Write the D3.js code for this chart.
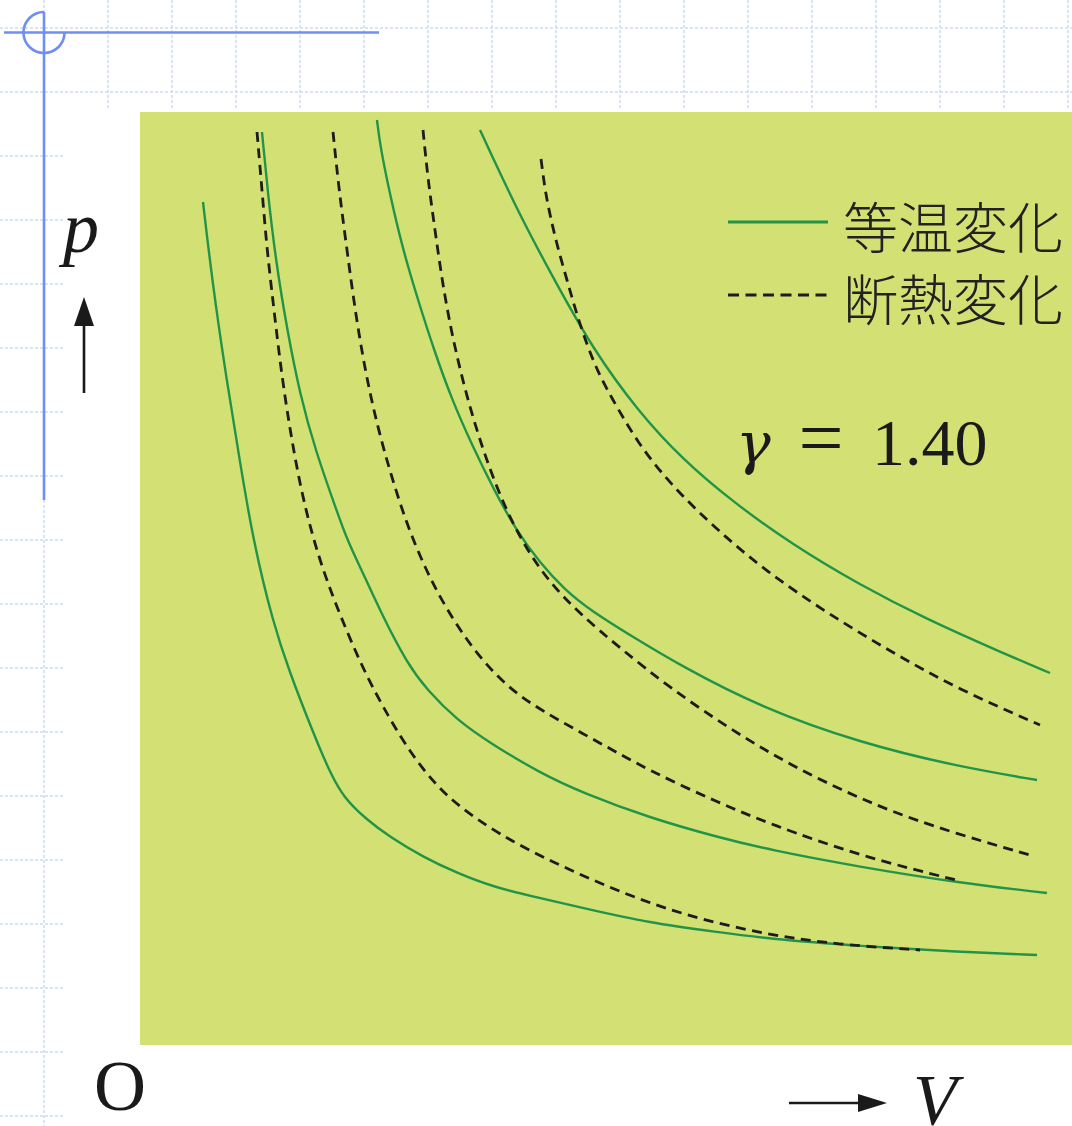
<!DOCTYPE html>
<html>
<head>
<meta charset="utf-8">
<script src="https://cdn.jsdelivr.net/npm/d3@7"></script>
<style>
  html, body { margin: 0; padding: 0; background: #ffffff; }
  svg { display: block; }
</style>
</head>
<body>
<svg id="chart" width="1072" height="1126"></svg>
<script>
// ---- p–V diagram: isothermal (solid) and adiabatic (dashed) curves ----
// Points are [V, p] in arbitrary units.

const isotherm1 = [[0.63,8.43],[0.72,7.66],[0.85,6.75],[1.00,5.83],[1.13,5.05],[1.33,4.22],[1.50,3.72],[1.67,3.28],[1.80,2.96],[1.90,2.73],[2.03,2.48],[2.27,2.25],[2.50,2.08],[2.83,1.88],[3.17,1.72],[3.53,1.58],[4.00,1.47],[4.43,1.37],[5.10,1.22],[5.77,1.13],[6.30,1.06],[7.20,0.99],[8.20,0.93],[8.97,0.90]];
const isotherm2 = [[1.22,9.13],[1.28,8.50],[1.36,7.83],[1.47,7.16],[1.60,6.50],[1.76,5.93],[1.94,5.42],[2.07,5.05],[2.23,4.72],[2.43,4.28],[2.67,3.82],[2.87,3.55],[3.17,3.25],[3.50,3.02],[4.00,2.72],[4.43,2.52],[5.10,2.27],[5.77,2.08],[6.30,1.95],[7.20,1.78],[8.20,1.62],[9.07,1.52]];
const isotherm3 = [[2.37,9.25],[2.40,9.00],[2.50,8.50],[2.63,7.95],[2.78,7.45],[2.94,6.95],[3.12,6.45],[3.32,6.00],[3.54,5.55],[3.76,5.15],[4.00,4.82],[4.25,4.55],[4.50,4.35],[4.93,4.08],[5.43,3.78],[6.20,3.38],[7.20,3.02],[8.20,2.78],[8.97,2.65]];
const isotherm4 = [[3.40,9.15],[3.77,8.35],[4.17,7.60],[4.53,6.96],[4.97,6.35],[5.43,5.85],[5.93,5.43],[6.53,5.00],[7.20,4.60],[7.86,4.26],[8.65,3.91],[9.10,3.72]];

const adiabat1 = [[1.17,9.13],[1.22,8.55],[1.27,7.95],[1.34,7.35],[1.41,6.75],[1.50,6.15],[1.60,5.60],[1.72,5.10],[1.87,4.63],[2.07,4.13],[2.26,3.70],[2.48,3.29],[2.70,2.93],[2.94,2.62],[3.18,2.39],[3.60,2.10],[4.10,1.84],[4.77,1.54],[5.43,1.30],[6.27,1.10],[7.03,1.00],[7.80,0.95]];
const adiabat2 = [[1.93,9.13],[1.99,8.55],[2.07,7.95],[2.15,7.35],[2.25,6.75],[2.37,6.20],[2.51,5.70],[2.67,5.20],[2.85,4.77],[3.04,4.40],[3.33,3.95],[3.67,3.58],[4.00,3.35],[4.60,3.02],[5.10,2.74],[5.77,2.43],[6.30,2.21],[7.20,1.89],[8.20,1.64]];
const adiabat3 = [[2.83,9.15],[2.88,8.65],[2.95,8.15],[3.02,7.65],[3.11,7.15],[3.22,6.67],[3.35,6.20],[3.50,5.75],[3.67,5.33],[3.87,4.95],[4.10,4.62],[4.40,4.31],[4.80,3.97],[5.30,3.57],[5.90,3.16],[6.50,2.80],[7.20,2.46],[7.90,2.19],[8.93,1.89]];
const adiabat4 = [[4.01,8.86],[4.05,8.55],[4.10,8.30],[4.17,8.00],[4.27,7.65],[4.36,7.33],[4.47,7.00],[4.58,6.73],[4.70,6.50],[4.97,6.03],[5.30,5.61],[5.77,5.15],[6.27,4.73],[6.87,4.32],[7.53,3.92],[8.20,3.55],[9.00,3.20]];

const isotherms = [isotherm1, isotherm2, isotherm3, isotherm4];
const adiabats = [adiabat1, adiabat2, adiabat3, adiabat4];

const legendLabels = ["等温変化", "断熱変化"];
const gamma = 1.40;
const axisLabels = { p: "p", V: "V", origin: "O" };

const V_MAX = 9.32, P_MAX = 9.33;

// ---- colours ----
const plotBg = "#d3e174";
const isoColor = "#229447";
const adiColor = "#1c1c1c";
const gridColor = "#cfdaf8";
const accentBlue = "#6f8ff2";

const svg = d3.select("#chart");
const W = 1072, H = 1126;

// ---- page backdrop: faint dashed grid ----
const grid = svg.append("g").attr("fill", "none")
  .attr("stroke", gridColor).attr("stroke-width", 1.5).attr("stroke-dasharray", "3,2");
const gx = d3.range(44, W, 64);
const gy = d3.range(28, H, 64);
gx.forEach(x => {
  grid.append("line").attr("x1", x).attr("x2", x)
    .attr("y1", 0).attr("y2", x === 44 ? H : 110);
});
gy.forEach(y => {
  grid.append("line").attr("y1", y).attr("y2", y)
    .attr("x1", 0).attr("x2", y < 100 ? W : 64);
});

// ---- blue corner ornament ----
const orn = svg.append("g").attr("fill", "none").attr("stroke", accentBlue)
  .attr("stroke-width", 2.6);
orn.append("line").attr("x1", 4).attr("x2", 379).attr("y1", 32.5).attr("y2", 32.5);
orn.append("line").attr("x1", 44).attr("x2", 44).attr("y1", 12).attr("y2", 500);
const arcPath = d3.path();
arcPath.moveTo(44, 12);
arcPath.arc(44, 32.5, 20.5, -Math.PI / 2, 0, true);
orn.append("path").attr("d", arcPath.toString());

// ---- scales & plot panel ----
const x = d3.scaleLinear().domain([0, V_MAX]).range([140, 1072]);
const y = d3.scaleLinear().domain([0, P_MAX]).range([1045, 112]);

svg.append("rect")
  .attr("x", x(0)).attr("y", y(P_MAX))
  .attr("width", x(V_MAX) - x(0)).attr("height", y(0) - y(P_MAX))
  .attr("fill", plotBg);

const line = d3.line()
  .x(d => x(d[0])).y(d => y(d[1]))
  .curve(d3.curveBasis);

svg.append("g").selectAll("path").data(isotherms).join("path")
  .attr("d", line)
  .attr("fill", "none").attr("stroke", isoColor).attr("stroke-width", 2.4);

svg.append("g").selectAll("path").data(adiabats).join("path")
  .attr("d", line)
  .attr("fill", "none").attr("stroke", adiColor).attr("stroke-width", 2.8)
  .attr("stroke-dasharray", "10,6.5");

// ---- legend ----
const legend = svg.append("g");
legend.append("line").attr("x1", 728).attr("x2", 828).attr("y1", 222).attr("y2", 222)
  .attr("stroke", isoColor).attr("stroke-width", 3);
legend.append("line").attr("x1", 728).attr("x2", 828).attr("y1", 295).attr("y2", 295)
  .attr("stroke", adiColor).attr("stroke-width", 3).attr("stroke-dasharray", "11,6.5");
legend.selectAll("text").data(legendLabels).join("text")
  .attr("x", 843).attr("y", (d, i) => 224 + i * 72)
  .attr("dominant-baseline", "central")
  .attr("font-family", "'Noto Sans CJK JP', 'Noto Sans CJK SC', sans-serif")
  .attr("font-weight", 300)
  .attr("font-size", 55).attr("fill", "#222")
  .text(d => d);

// ---- γ label ----
const serif = "'Liberation Serif', 'DejaVu Serif', serif";
const gLabel = svg.append("g").attr("fill", "#1a1a1a");
gLabel.append("text").attr("x", 736).attr("y", 463)
  .attr("font-family", "'DejaVu Serif', serif")
  .attr("font-size", 58).attr("font-style", "italic").text("γ");
gLabel.append("text").attr("x", 821).attr("y", 465).attr("text-anchor", "middle")
  .attr("font-family", serif).attr("font-size", 80).text("=");
gLabel.append("text").attr("x", 872).attr("y", 465)
  .attr("font-family", serif).attr("font-size", 66).text(gamma.toFixed(2));

// ---- axis labels and arrows ----
const axes = svg.append("g").attr("font-family", serif).attr("fill", "#1a1a1a");
axes.append("text").attr("x", 63).attr("y", 252)
  .attr("font-size", 72).attr("font-style", "italic").text(axisLabels.p);
axes.append("text").attr("x", 94).attr("y", 1110)
  .attr("font-size", 72).text(axisLabels.origin);
axes.append("text").attr("x", 913).attr("y", 1124)
  .attr("font-size", 72).attr("font-style", "italic").text(axisLabels.V);

// up arrow beside p
axes.append("line").attr("x1", 84).attr("x2", 84).attr("y1", 393).attr("y2", 318)
  .attr("stroke", "#1a1a1a").attr("stroke-width", 2.6);
axes.append("path").attr("d", "M84,297 L74,326 L94,326 Z").attr("fill", "#1a1a1a");

// right arrow before V
axes.append("line").attr("x1", 789).attr("x2", 862).attr("y1", 1103).attr("y2", 1103)
  .attr("stroke", "#1a1a1a").attr("stroke-width", 2.6);
axes.append("path").attr("d", "M887,1103 L858,1094 L858,1112 Z").attr("fill", "#1a1a1a");
</script>
</body>
</html>
